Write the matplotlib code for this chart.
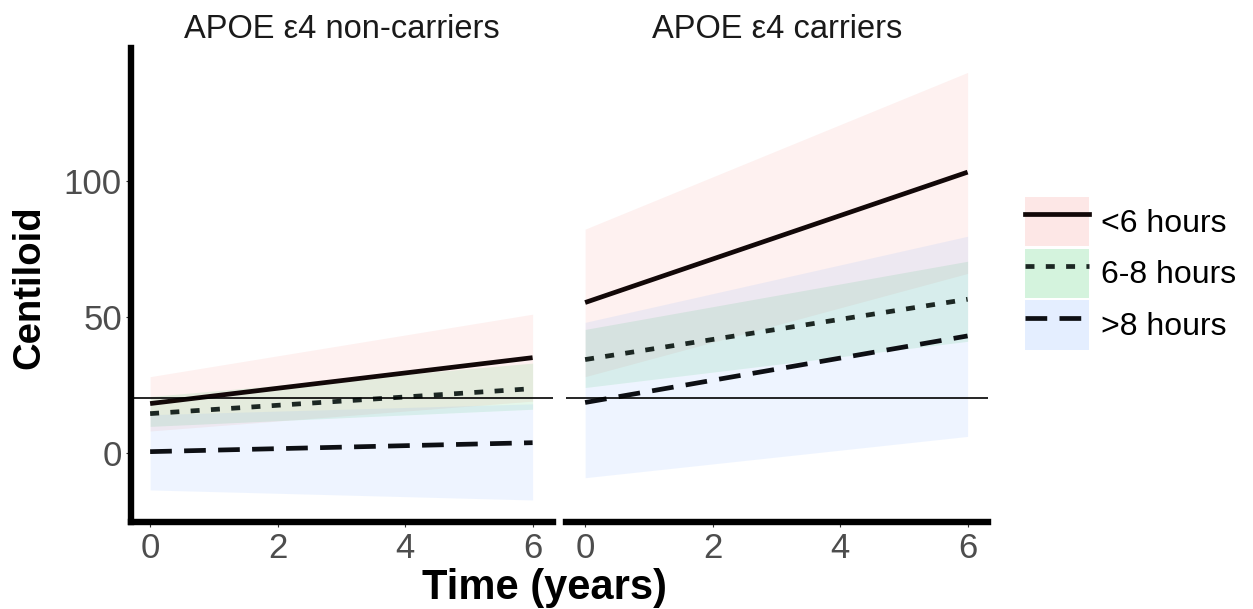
import matplotlib
matplotlib.use("Agg")
import matplotlib.pyplot as plt
from matplotlib.patches import Patch
from matplotlib.lines import Line2D
from matplotlib.legend_handler import HandlerTuple

plt.rcParams["font.family"] = ["Liberation Sans", "DejaVu Sans"]

# time points (years)
years = [0, 6]

groups = ["<6 hours", "6-8 hours", ">8 hours"]
fills  = ["#F8766D", "#00BA38", "#619CFF"]

# APOE e4 non-carriers: mean, lower, upper at year 0 and 6
non_mean  = {"<6 hours": [18.1, 35],  "6-8 hours": [14.4, 23.6], ">8 hours": [0.4, 3.7]}
non_lower = {"<6 hours": [8, 19],     "6-8 hours": [9.7, 16],    ">8 hours": [-13.7, -17.4]}
non_upper = {"<6 hours": [28, 51],    "6-8 hours": [20.7, 33],   ">8 hours": [14, 18]}

# APOE e4 carriers
car_mean  = {"<6 hours": [55.3, 103.3], "6-8 hours": [34.3, 56.5], ">8 hours": [18.5, 43]}
car_lower = {"<6 hours": [28, 66],      "6-8 hours": [24, 41],     ">8 hours": [-9.2, 6]}
car_upper = {"<6 hours": [82.3, 140],   "6-8 hours": [45.4, 70.5], ">8 hours": [48, 79.7]}

panel_titles = ["APOE \u03b54 non-carriers", "APOE \u03b54 carriers"]
threshold = 20
yticks = [0, 50, 100]
xticks = [0, 2, 4, 6]

STYLES = {"<6 hours": dict(ls="-", color="#120808"),
          "6-8 hours": dict(dashes=(1.9, 2.4), color="#1c2723"),
          ">8 hours": dict(dashes=(4.6, 2.6), color="#0d0f14")}
LW = 3.4

fig = plt.figure(figsize=(12.53, 6.09), dpi=100)
W, H = 1253, 609
axL = fig.add_axes([131/W, 1-522/H, 422/W, 474/H])
axR = fig.add_axes([566/W, 1-522/H, 422/W, 474/H])

panels = [(axL, non_mean, non_lower, non_upper),
          (axR, car_mean, car_lower, car_upper)]

for i, (ax, mean, lo, hi) in enumerate(panels):
    for g, c in zip(groups, fills):
        ax.fill_between(years, lo[g], hi[g], color=c, alpha=0.1, lw=0)
    for g in groups:
        ax.plot(years, mean[g], lw=LW, solid_capstyle="butt", **STYLES[g])
    ax.axhline(threshold, color="black", lw=1.2)
    ax.set_xlim(-0.3, 6.32)
    ax.set_ylim(-25.5, 149)
    ax.set_xticks(xticks)
    ax.set_yticks(yticks)
    ax.tick_params(labelsize=25, labelcolor="#4D4D4D", color="#333333",
                   length=3.5, width=0.8)
    ax.tick_params(axis="x", pad=4)
    ax.tick_params(axis="y", pad=3)
    for s in ["top", "right"]:
        ax.spines[s].set_visible(False)
    ax.spines["bottom"].set_linewidth(4.6)
    ax.spines["left"].set_linewidth(4.6)
    ax.set_title(panel_titles[i], fontsize=23.5, pad=7, color="#1a1a1a")

axR.spines["left"].set_visible(False)
axR.tick_params(axis="y", left=False, labelleft=False)

fig.text(29/W, 1-287/H, "Centiloid", fontsize=27.5, fontweight="bold",
         rotation=90, ha="center", va="center")
fig.text(545/W, 1-588/H, "Time (years)", fontsize=30, fontweight="bold",
         ha="center", va="center")

handles = []
for g, c in zip(groups, fills):
    handles.append((Patch(facecolor=c, alpha=0.17, lw=0),
                    Line2D([], [], lw=LW, **STYLES[g])))
fig.legend(handles, groups, handler_map={tuple: HandlerTuple(ndivide=1, pad=0)},
           loc="upper left", bbox_to_anchor=(1025/W, 1-197/H),
           frameon=False, fontsize=23, handlelength=2.0, handleheight=2.0,
           labelspacing=0.07, handletextpad=0.38, borderpad=0, borderaxespad=0)

plt.savefig("out.png", dpi=100)
plt.close()
